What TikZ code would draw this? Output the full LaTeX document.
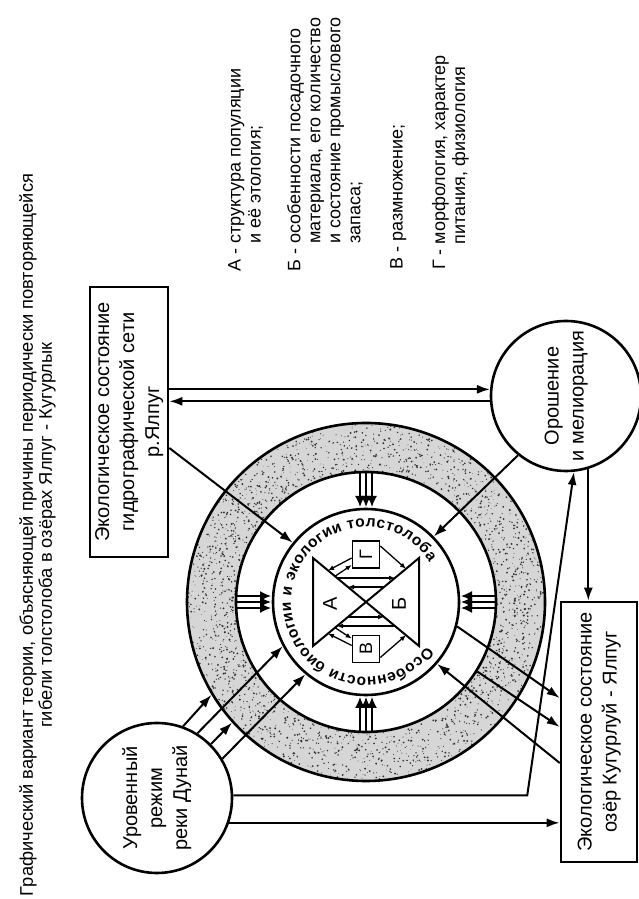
\documentclass[tikz,border=0pt]{standalone}
\usepackage{fontspec}
\setmainfont{Liberation Sans}
\usetikzlibrary{arrows.meta,calc,decorations.text}
\newcommand{\vtext}[1]{\rotatebox{90}{\begin{tabular}{@{}c@{}}#1\end{tabular}}}

\begin{document}
\begin{tikzpicture}[x=1pt,y=1pt]
  \tikzstyle{frame}=[draw, line width=2.6pt, inner sep=0pt]
  \tikzstyle{arr}=[line width=2pt, -{Latex[length=13pt,width=9pt]}]
  \tikzstyle{tri}=[line width=1.6pt, -{Latex[length=11pt,width=10pt]}]
  \tikzstyle{small}=[line width=1.3pt, -{Latex[length=6pt,width=5pt]}]
  \tikzstyle{notes}=[rotate=90, inner sep=0pt, align=left, anchor=north west, font=\fontsize{18}{20}\selectfont]
  \tikzstyle{big}=[font=\fontsize{20}{25}\selectfont]

  \useasboundingbox (0,0) rectangle (639,899);
  \coordinate (C) at (366,297);

  \fill[black!16, even odd rule] (C) circle (179) (C) circle (130);
  \pgfmathsetseed{7}
  \foreach \i in {1,...,2200} {
    \pgfmathsetmacro{\rr}{131+47*rnd}
    \pgfmathsetmacro{\aa}{360*rnd}
    \fill[black!80] (C) ++(\aa:\rr) circle ({0.3+0.8*rnd});
  }

  \node[circle, frame, minimum size=358] (outer) at (C) {};
  \node[circle, frame, minimum size=260] (mid) at (C) {};
  \node[circle, frame, minimum size=186] (core) at (C) {};

  \path[decorate, decoration={text along path, text align={fit to path},
      text={|\fontsize{15.5}{15.5}\bfseries|Особенности биологии и экологии толстолоба}}]
    (C) ++(-36:75) arc[start angle=-36, end angle=-328, radius=75];

  \begin{scope}[shift={(C)}]
    \draw[line width=2pt] (-53,44) -- (-53,-44) -- (53,44) -- (53,-44) -- cycle;
    \node[frame, line width=1.6pt, minimum size=27, font=\fontsize{18}{18}\selectfont] (g) at (0,47.5) {\rotatebox{90}{Г}};
    \node[frame, line width=1.6pt, minimum size=27, font=\fontsize{18}{18}\selectfont] (v) at (0,-47) {\rotatebox{90}{В}};
    \node[rotate=90, font=\fontsize{20}{20}\selectfont] (a) at (-36,-2) {А};
    \node[rotate=90, font=\fontsize{20}{20}\selectfont] (b) at (33,-2) {Б};
    \draw[small] (-29,24) -- (29,24);
    \draw[small] (18,15) -- (-18,15);
    \draw[small] (-18,-15) -- (18,-15);
    \draw[small] (29,-24) -- (-29,-24);
    \draw[small] ([yshift=-3.5]g.west) -- (-38,31.5);
    \draw[small] (-31,25.7) -- ([yshift=-10.5]g.west);
    \draw[small] ([yshift=8.5]g.east) -- (40,33.2);
    \draw[small] ([yshift=3.5]v.west) -- (-38,-31.5);
    \draw[small] (-31,-25.7) -- ([yshift=10.5]v.west);
    \draw[small] ([yshift=-8.5]v.east) -- (40,-33.2);
  \end{scope}

  \foreach \a in {0,90,180,270} {
    \foreach \o in {-6,0,6} {
      \draw[tri] ($(C)+(\a:129)+(\a+90:\o)$) -- ($(C)+(\a:95)+(\a+90:\o)$);
    }
  }

  \node[rotate=90, align=center, inner sep=0pt, font=\fontsize{18.3}{19}\selectfont] (title) at (37.5,364)
    {Графический вариант теории, объясняющей причины периодически повторяющейся\\гибели толстолоба в озёрах Ялпуг - Кугурлык};

  \node[frame, big, minimum width=78, minimum height=270] (box1) at (129,477)
    {\vtext{Экологическое состояние\\гидрографической сети\\р.Ялпуг}};
  \node[frame, big, minimum width=76, minimum height=260] (box2) at (599,167)
    {\vtext{Экологическое состояние\\озёр Кугурлуй - Ялпуг}};
  \node[circle, frame, big, minimum size=150] (urov) at (157,101)
    {\vtext{Уровенный\\режим\\реки Дунай}};
  \node[circle, frame, big, minimum size=150] (orosh) at (566,503)
    {\vtext{Орошение\\и мелиорация}};

  \node[notes] (la) at (228,627) {А - структура популяции\\\phantom{А - }и её этология;};
  \node[notes] (lb) at (287,627) {Б - особенности посадочного\\\phantom{Б - }материала, его количество\\\phantom{Б - }и состояние промыслового\\\phantom{Б - }запаса;};
  \node[notes] (lv) at (390,629) {В - размножение;};
  \node[notes] (lg) at (432,629) {Г - морфология, характер\\\phantom{Г - }питания, физиология};

  \draw[arr] (urov.70) -- (outer.211);
  \draw[arr] (urov.58) -- (core.208);
  \draw[arr] (urov.45) -- (outer.222);
  \draw[arr] (urov.31) -- (core.230);
  \draw[arr] (urov.-19) -- (urov.-19 -| box2.west);
  \draw[arr] (urov.2) -- ++(294,0) -- (orosh.-84);
  \draw[arr] (orosh.-73) -- (orosh.-73 |- box2.north);
  \draw[arr] (orosh.175 -| box1.east) -- (orosh.175);
  \draw[arr] (orosh.184) -- (orosh.184 -| box1.east);
  \draw[arr] ([yshift=-26]box1.east) -- (core.141);
  \draw[arr] (orosh.231) -- (core.44);
  \draw[arr] (core.-15) -- ([yshift=34]box2.west);
  \draw[arr] (mid.-32) -- ([yshift=5]box2.west);
  \draw[arr] ([yshift=-31]box2.west) -- (core.-41);
\end{tikzpicture}
\end{document}
